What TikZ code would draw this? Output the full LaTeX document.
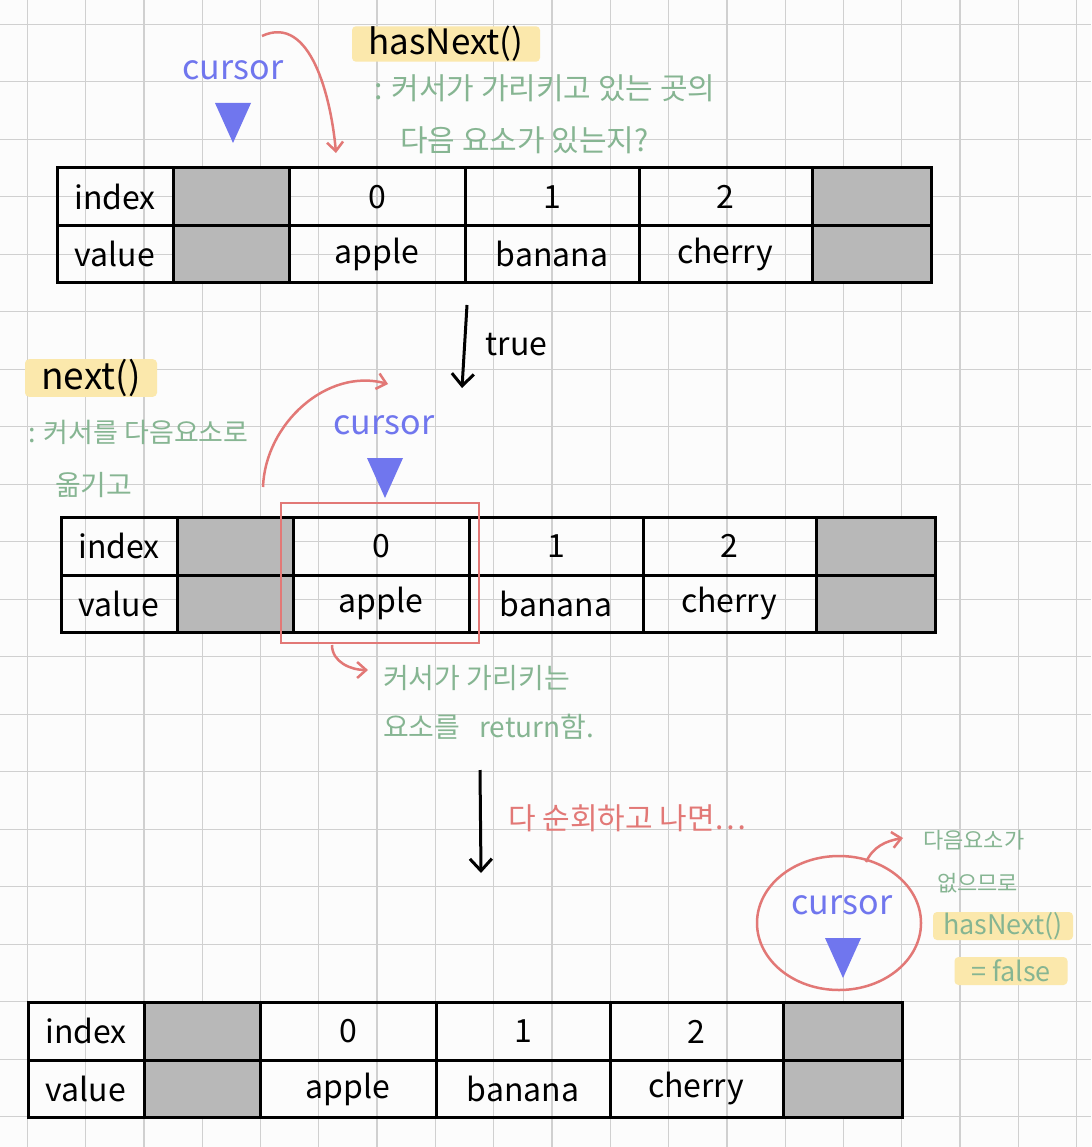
\documentclass[tikz,border=0pt]{standalone}
\usepackage{fontspec}
\setmainfont{Noto Sans CJK KR}
\usetikzlibrary{arrows.meta}

\definecolor{gridgray}{RGB}{208,208,208}
\definecolor{slotgray}{RGB}{184,184,184}
\definecolor{notegreen}{RGB}{134,181,146}
\definecolor{markred}{RGB}{226,120,118}
\definecolor{cursorblue}{RGB}{112,118,238}
\definecolor{hiliteyellow}{RGB}{251,232,172}
\definecolor{paper}{RGB}{252,252,252}

\tikzset{
  tableline/.style={line width=3pt, black},
  celltext/.style={font=\fontsize{32}{36}\selectfont},
  cursortext/.style={text=cursorblue, font=\fontsize{34}{38}\selectfont},
  note/.style={text=notegreen, font=\fontsize{28}{32}\selectfont, anchor=west, inner sep=0pt},
  hilite/.style={fill=hiliteyellow, rounded corners=4pt, inner sep=0pt},
  redarrow/.style={markred, line width=2.5pt, -{Straight Barb[length=9pt,width=16pt]}},
  flowarrow/.style={black, line width=3pt, -{Straight Barb[length=12pt,width=22pt]}},
  cursortri/.pic={\fill[cursorblue] (-18,-40) -- (18,-40) -- (0,0) -- cycle;}
}

% one array: label column, empty slot, three elements, empty slot
\newcommand{\arraytable}[3]{%
  \begin{scope}[shift={(#1,#2)}]
    \fill[slotgray] (116,0) rectangle (232,115);
    \fill[slotgray] (755,0) rectangle (874,115);
    \draw[tableline] (0,0) rectangle (874,115);
    \draw[tableline] (0,57.5) -- (874,57.5);
    \foreach \cx in {116,232,408,582,755} \draw[tableline] (\cx,0) -- (\cx,115);
    \node[celltext] (#3-index) at (58,28.75) {index};
    \node[celltext] (#3-value) at (58,86.25) {value};
    \node[celltext] (#3-i0) at (320,28.75) {0};
    \node[celltext] (#3-i1) at (495,28.75) {1};
    \node[celltext] (#3-i2) at (668,28.75) {2};
    \node[celltext] (#3-v0) at (320,86.25) {apple};
    \node[celltext] (#3-v1) at (495,86.25) {banana};
    \node[celltext] (#3-v2) at (668,86.25) {cherry};
  \end{scope}}

\begin{document}
\begin{tikzpicture}[x=1pt, y=-1pt]
	% Paper and grid
	\fill[paper] (0,0) rectangle (1091,1147);
	\useasboundingbox (0,0) rectangle (1091,1147);
	\foreach \gx in {0,...,18} \draw[gridgray, line width=1.3pt] ({27.3+58.3*\gx},0) -- ({27.3+58.3*\gx},1147);
	\foreach \gy in {0,...,19} \draw[gridgray, line width=1.3pt] (0,{24.3+57.5*\gy}) -- (1091,{24.3+57.5*\gy});

	% First array and hasNext()
	\arraytable{57}{168}{first}
	\node[cursortext] (cur1) at (233,70) {cursor};
	\pic at (233,143) {cursortri};
	\node[hilite, minimum width=188pt, minimum height=32pt, font=\fontsize{35}{39}\selectfont] (hasnext) at (446,44) {hasNext()};
	\node[note, font=\fontsize{30}{34}\selectfont] (hnnote1) at (374,88) {: 커서가 가리키고 있는 곳의};
	\node[note, font=\fontsize{30}{34}\selectfont] (hnnote2) at (400,140) {다음 요소가 있는지?};
	\coordinate (hnstart) at (262,36);
	\coordinate (hnend) at (336,153);
	\draw[redarrow] (hnstart) to[out=25,in=95] (hnend);

	% Step down with true
	\coordinate (tstart) at (467,305);
	\coordinate (tend) at (462,388);
	\draw[flowarrow] (tstart) -- (tend);
	\node[font=\fontsize{32}{36}\selectfont, anchor=west] (truelabel) at (482,345) {true};

	% Second array and next()
	\node[hilite, minimum width=132pt, minimum height=30pt, font=\fontsize{37}{40}\selectfont] (next) at (91,378) {next()};
	\node[note, font=\fontsize{27}{31}\selectfont] (nxnote1) at (28,432) {: 커서를 다음요소로};
	\node[note] (nxnote2) at (55,485) {옮기고};
	\node[cursortext] (cur2) at (384,425) {cursor};
	\pic at (385,498) {cursortri};
	\coordinate (nxstart) at (263,487);
	\coordinate (nxend) at (388,384);
	\draw[redarrow] (nxstart) to[out=88,in=165] (nxend);
	\arraytable{61}{517.5}{second}
	\node[draw=markred, line width=2.5pt, minimum width=198pt, minimum height=140pt, inner sep=0pt] (pick) at (380,573) {};
	\coordinate (retstart) at (332,645);
	\coordinate (retend) at (368,670);
	\draw[redarrow] (retstart) to[out=-90,in=180] (retend);
	\node[note] (retnote1) at (383,678) {커서가 가리키는};
	\node[note] (retnote2) at (383,727) {요소를 \ \ return함.};

	% Step down to the end
	\coordinate (dstart) at (480,770);
	\coordinate (dend) at (481,873);
	\draw[flowarrow] (dstart) -- (dend);
	\node[note, text=markred, font=\fontsize{30}{34}\selectfont] (donenote) at (508,818) {다 순회하고 나면…};

	% Last array, cursor past the end
	\arraytable{28}{1002.7}{third}
	\draw[markred, line width=2.5pt] (839,923) ellipse [x radius=82, y radius=67];
	\node[cursortext] (cur3) at (842,905) {cursor};
	\pic at (843,978) {cursortri};
	\coordinate (endstart) at (866,862);
	\coordinate (endend) at (903,838);
	\draw[redarrow] (endstart) to[out=65,in=190] (endend);
	\node[note, font=\fontsize{22}{26}\selectfont] (endnote1) at (923,840) {다음요소가};
	\node[note, font=\fontsize{22}{26}\selectfont] (endnote2) at (937,883) {없으므로};
	\node[hilite, text=notegreen, minimum width=140pt, minimum height=28pt, font=\fontsize{27}{30}\selectfont] (endhas) at (1003,926) {hasNext()};
	\node[hilite, text=notegreen, minimum width=113pt, minimum height=28pt, font=\fontsize{27}{30}\selectfont] (endfalse) at (1011,971) {= false};
\end{tikzpicture}
\end{document}
